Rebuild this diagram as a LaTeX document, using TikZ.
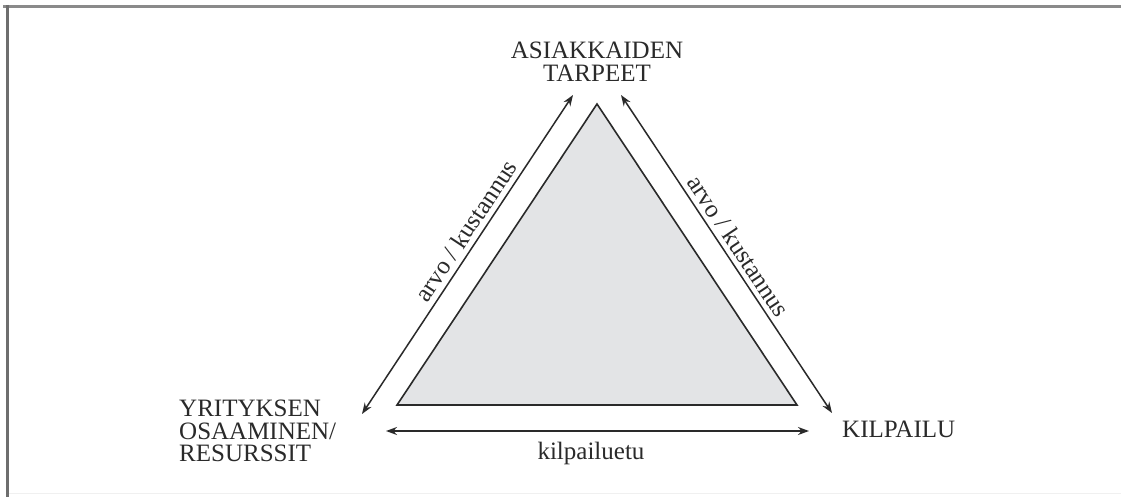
\documentclass[tikz,border=0pt]{standalone}
\usepackage{fontspec}
\setmainfont{Liberation Serif}
\usetikzlibrary{arrows.meta}
\definecolor{ink}{HTML}{2A2A2A}
\definecolor{tri}{HTML}{E3E4E6}
\definecolor{frame}{HTML}{8A8A8A}
\begin{document}
\begin{tikzpicture}[x=1pt,y=-1pt,
  lbl/.style={text=ink,font=\fontsize{25}{22.5}\selectfont,inner sep=0pt},
  conn/.style={draw=ink,line width=1.5pt,{Stealth[length=11pt,width=8pt]}-{Stealth[length=11pt,width=8pt]}},
  edgelbl/.style={text=ink,font=\fontsize{25}{22}\selectfont,inner sep=5pt}]
\useasboundingbox (0,0) rectangle (1121,497);
\fill[white] (0,0) rectangle (1121,497);
% frame
\draw[frame,line width=3pt] (3,6.5) -- (1121,6.5);
\draw[frame!80!black,line width=2.5pt] (7.5,5) -- (7.5,497);
\draw[black!6,line width=1pt] (9,493) -- (1121,493);
% triangle
\coordinate (apex) at (597,104);
\coordinate (bl) at (397,405);
\coordinate (br) at (797,405);
\filldraw[fill=tri,draw=ink,line width=1.6pt,line join=miter] (apex) -- (bl) -- (br) -- cycle;
% labels
\node[lbl,align=center,anchor=north] (top) at (597,42) {ASIAKKAIDEN\\TARPEET};
\node[lbl,align=left,anchor=north west] (left) at (179,400) {YRITYKSEN\\OSAAMINEN/\\RESURSSIT};
\node[lbl,anchor=base west] (right) at (842,437) {KILPAILU};
% arrow ends
\coordinate (lt) at (573,95);
\coordinate (lb) at (362,414);
\coordinate (rt) at (621,95);
\coordinate (rb) at (832,413);
\coordinate (bL) at (386,431);
\coordinate (bR) at (809,431);
\draw[conn] (lb) -- node[edgelbl,sloped,above,pos=0.55] {arvo / kustannus} (lt);
\draw[conn] (rt) -- node[edgelbl,sloped,above,pos=0.5] {arvo / kustannus} (rb);
\draw[conn] (bL) -- (bR);
\node[lbl,anchor=base] (adv) at (591,459) {kilpailuetu};
\end{tikzpicture}
\end{document}
